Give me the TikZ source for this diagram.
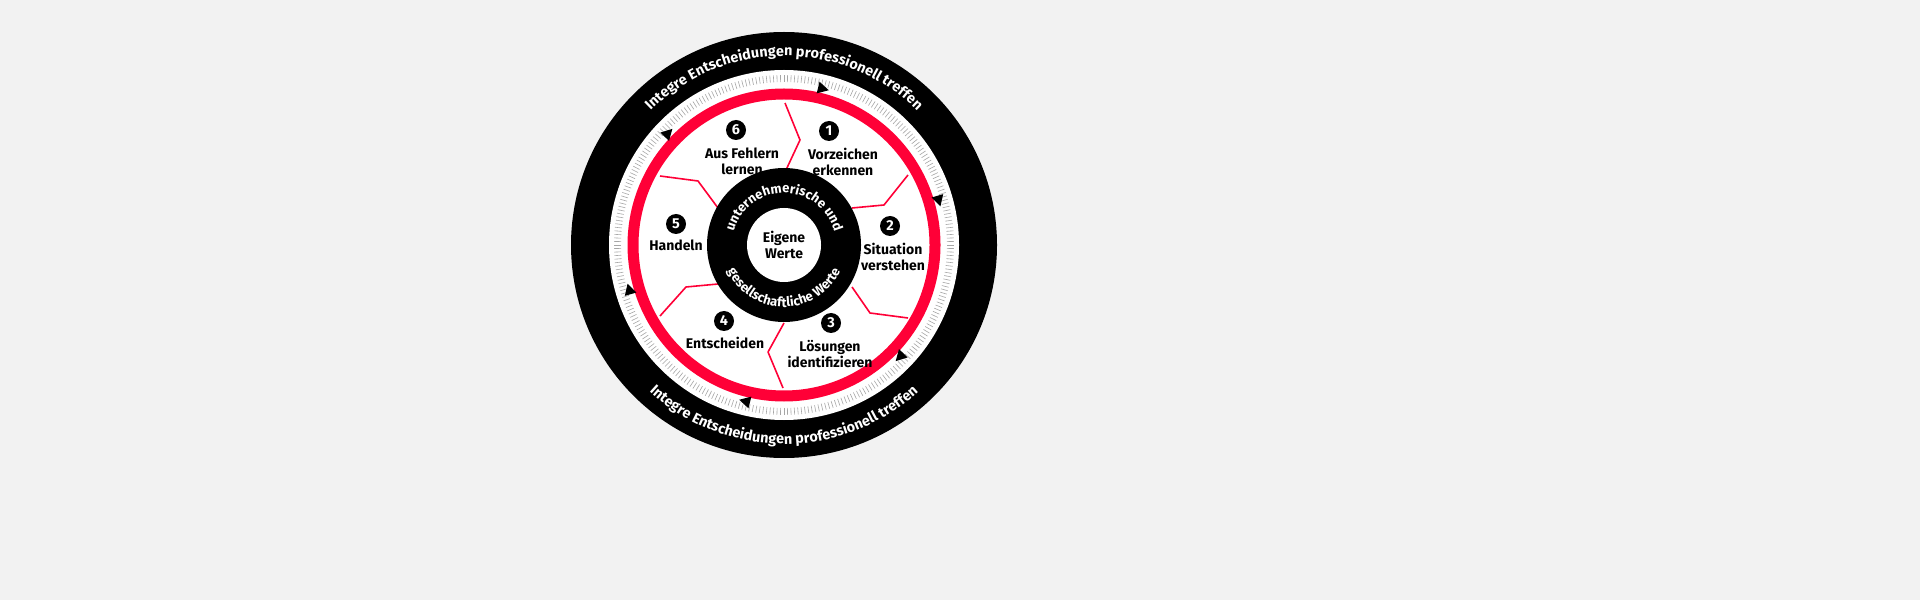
\documentclass[tikz,border=0pt]{standalone}
\usepackage{fontspec}
\setmainfont{Fira Sans}
\usetikzlibrary{calc,decorations.text}
\definecolor{bgray}{HTML}{F2F2F2}
\definecolor{wred}{HTML}{FF0037}
\tikzset{
  stepnum/.style={circle,fill=black,text=white,inner sep=0pt,minimum size=10pt,font=\fontsize{7.2}{7.2}\selectfont\bfseries},
  steplabel/.style={align=center,font=\fontsize{7}{8}\selectfont\bfseries},
  divider/.style={wred,line width=0.8pt,line join=round},
}
\begin{document}
\begin{tikzpicture}[x=0.5pt,y=0.5pt]
   \useasboundingbox[fill=bgray] (0,0) rectangle (1920,600);
   \coordinate (c) at (784,355);

   %% Ringe
   \fill[black] (c) circle (213);
   \fill[white] (c) circle (175);
   \foreach \a in {0,1.2,...,359}
     \draw[gray!70,line width=0.3pt] ($(c)+(\a:163)$) -- ($(c)+(\a:170)$);
   \draw[wred,line width=5.5pt] (c) circle (151);

   %% Trennlinien
   \draw[divider] (785,497) -- (800,460) -- (786,430);
   \draw[divider] (908,425) -- (884,395) -- (852,392);
   \draw[divider] (908,282) -- (870,287) -- (852,313);
   \draw[divider] (783,212) -- (768,248) -- (784,277);
   \draw[divider] (660,284) -- (686,313) -- (718,316);
   \draw[divider] (660,424) -- (698,419) -- (718,392);

   \fill[black] (c) circle (77);
   \fill[white] (c) circle (37);

   %% Pfeile
   \foreach \a in {76,16,-44,-104,-164,136}
     \fill[black,shift={(c)},rotate=\a] (161,-6) -- (155,5) -- (167,5) -- cycle;

   %% Schrift im Ring
   \path[decorate,decoration={text along path,text align=center,
     text={|\fontsize{7.2}{7.2}\selectfont\bfseries\color{white}|Integre Entscheidungen professionell treffen}}]
     ($(c)+(150:189)$) arc (150:30:189);
   \path[decorate,decoration={text along path,text align=center,
     text={|\fontsize{7.2}{7.2}\selectfont\bfseries\color{white}|Integre Entscheidungen professionell treffen}}]
     ($(c)+(212:199)$) arc (212:328:199);
   \path[decorate,decoration={text along path,text align=center,
     text={|\fontsize{6.6}{6.6}\selectfont\bfseries\color{white}|unternehmerische und}}]
     ($(c)+(178:52)$) arc (178:2:52);
   \path[decorate,decoration={text along path,text align=center,
     text={|\fontsize{6.6}{6.6}\selectfont\bfseries\color{white}|gesellschaftliche Werte}}]
     ($(c)+(182:62)$) arc (182:358:62);

   \node[steplabel] (core) at (c) {Eigene\\Werte};

   %% Schritte
   \node[stepnum] (n1) at (829,469) {1};
   \node[steplabel] (s1) at (843,438) {Vorzeichen\\erkennen};
   \node[stepnum] (n2) at (890,374) {2};
   \node[steplabel] (s2) at (893,343) {Situation\\verstehen};
   \node[stepnum] (n3) at (831,277) {3};
   \node[steplabel] (s3) at (830,246) {Lösungen\\identifizieren};
   \node[stepnum] (n4) at (724,279) {4};
   \node[steplabel] (s4) at (725,257) {Entscheiden};
   \node[stepnum] (n5) at (676,376) {5};
   \node[steplabel] (s5) at (676,355) {Handeln};
   \node[stepnum] (n6) at (736,470) {6};
   \node[steplabel] (s6) at (742,439) {Aus Fehlern\\lernen};
\end{tikzpicture}
\end{document}
